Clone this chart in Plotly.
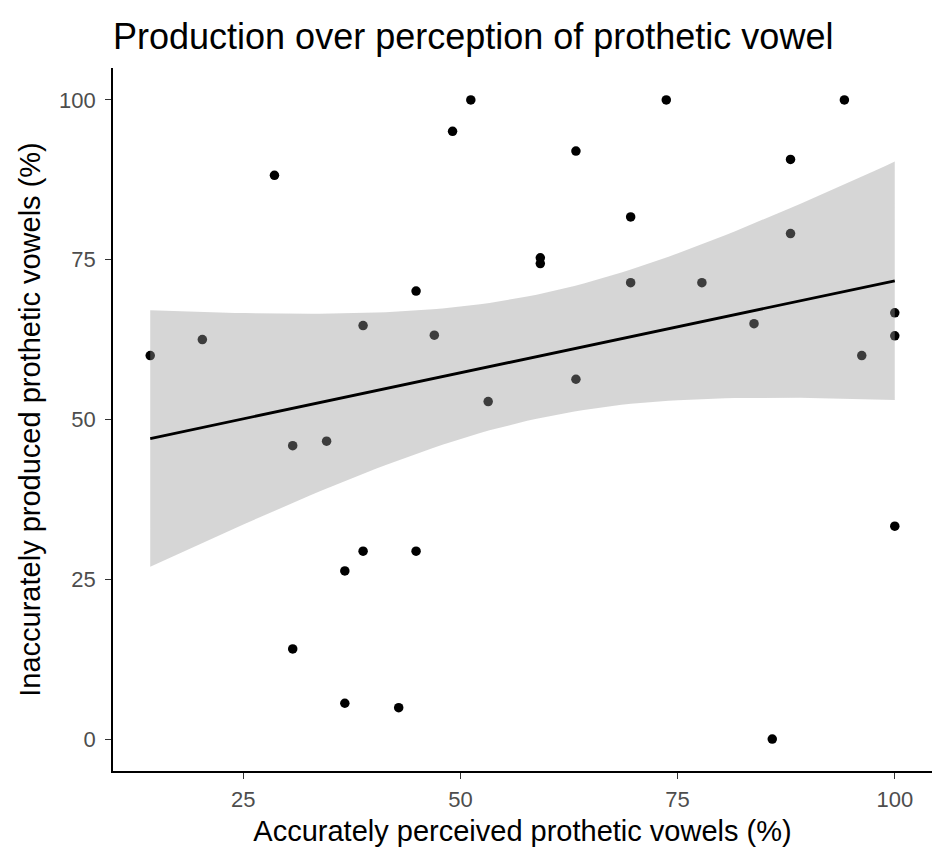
import numpy as np
import plotly.graph_objects as go

# Per-participant scores (%)
perceived = [14.3, 20.3, 28.6, 30.7, 30.7, 34.6, 36.7, 36.7, 38.8, 38.8,
             44.9, 44.9, 42.9, 47.0, 49.1, 51.2, 53.2, 59.2, 59.2, 63.3,
             63.3, 69.6, 69.6, 73.7, 77.8, 83.8, 85.9, 88.0, 88.0, 94.2,
             96.2, 100.0, 100.0, 100.0]
produced = [60.0, 62.5, 88.2, 45.9, 14.1, 46.6, 26.3, 5.6, 64.7, 29.4,
            70.1, 29.4, 4.9, 63.2, 95.1, 100.0, 52.8, 75.3, 74.4, 92.0,
            56.3, 81.7, 71.4, 100.0, 71.4, 65.0, 0.0, 90.7, 79.1, 100.0,
            60.0, 66.7, 63.1, 33.3]

x_ticks = [25, 50, 75, 100]
y_ticks = [0, 25, 50, 75, 100]

title_text = "Production over perception of prothetic vowel"
x_title = "Accurately perceived prothetic vowels (%)"
y_title = "Inaccurately produced prothetic vowels (%)"

x = np.array(perceived)
y = np.array(produced)
n = len(x)

# Ordinary least squares fit with a 95% confidence band
slope, intercept = np.polyfit(x, y, 1)
resid = y - (intercept + slope * x)
df = n - 2
s = np.sqrt(np.sum(resid ** 2) / df)
sxx = np.sum((x - x.mean()) ** 2)

# Student t quantile (0.975) via Cornish-Fisher expansion
z = 1.959963985
t_q = (z + (z ** 3 + z) / (4 * df)
       + (5 * z ** 5 + 16 * z ** 3 + 3 * z) / (96 * df ** 2)
       + (3 * z ** 7 + 19 * z ** 5 + 17 * z ** 3 - 15 * z) / (384 * df ** 3))

grid = np.linspace(x.min(), x.max(), 80)
fit = intercept + slope * grid
se = s * np.sqrt(1 / n + (grid - x.mean()) ** 2 / sxx)
upper = fit + t_q * se
lower = fit - t_q * se

def expand(lo, hi, frac=0.05):
    pad = (hi - lo) * frac
    return [lo - pad, hi + pad]

fig = go.Figure()

fig.add_trace(go.Scatter(
    x=perceived, y=produced, mode="markers",
    marker=dict(color="black", size=9.5, line=dict(width=0)),
    hoverinfo="x+y", showlegend=False,
))

fig.add_trace(go.Scatter(
    x=np.concatenate([grid, grid[::-1]]),
    y=np.concatenate([upper, lower[::-1]]),
    fill="toself", fillcolor="rgba(153,153,153,0.4)",
    line=dict(width=0), mode="lines", hoverinfo="skip", showlegend=False,
))

fig.add_trace(go.Scatter(
    x=grid, y=fit, mode="lines",
    line=dict(color="black", width=2.8),
    hoverinfo="skip", showlegend=False,
))

axis_common = dict(
    showgrid=False, zeroline=False,
    showline=True, linecolor="black", linewidth=1.6,
    ticks="outside", ticklen=6, tickwidth=1.4, tickcolor="#333333",
    tickfont=dict(family="Liberation Sans, Arial, sans-serif", size=22, color="#4D4D4D"),
    mirror=False,
)

fig.update_layout(
    width=939, height=856,
    margin=dict(l=113, r=7, t=68, b=85),
    plot_bgcolor="white", paper_bgcolor="white",
    font=dict(family="Liberation Sans, Arial, sans-serif", color="black"),
    title=dict(text=title_text, x=0, xref="paper", xanchor="left",
               y=1 - 36 / 856, yref="container", yanchor="middle",
               font=dict(size=36, color="black")),
    xaxis=dict(range=expand(min(perceived), max(perceived)),
               tickvals=x_ticks, ticktext=[str(v) for v in x_ticks],
               ticklabelstandoff=2,
               title=dict(text=x_title, font=dict(size=29), standoff=9),
               **axis_common),
    yaxis=dict(range=expand(min(produced), max(produced)),
               tickvals=y_ticks, ticktext=[str(v) for v in y_ticks],
               ticklabelstandoff=5,
               title=dict(text=y_title, font=dict(size=29), standoff=10),
               **axis_common),
)

fig.write_html("out.html")
